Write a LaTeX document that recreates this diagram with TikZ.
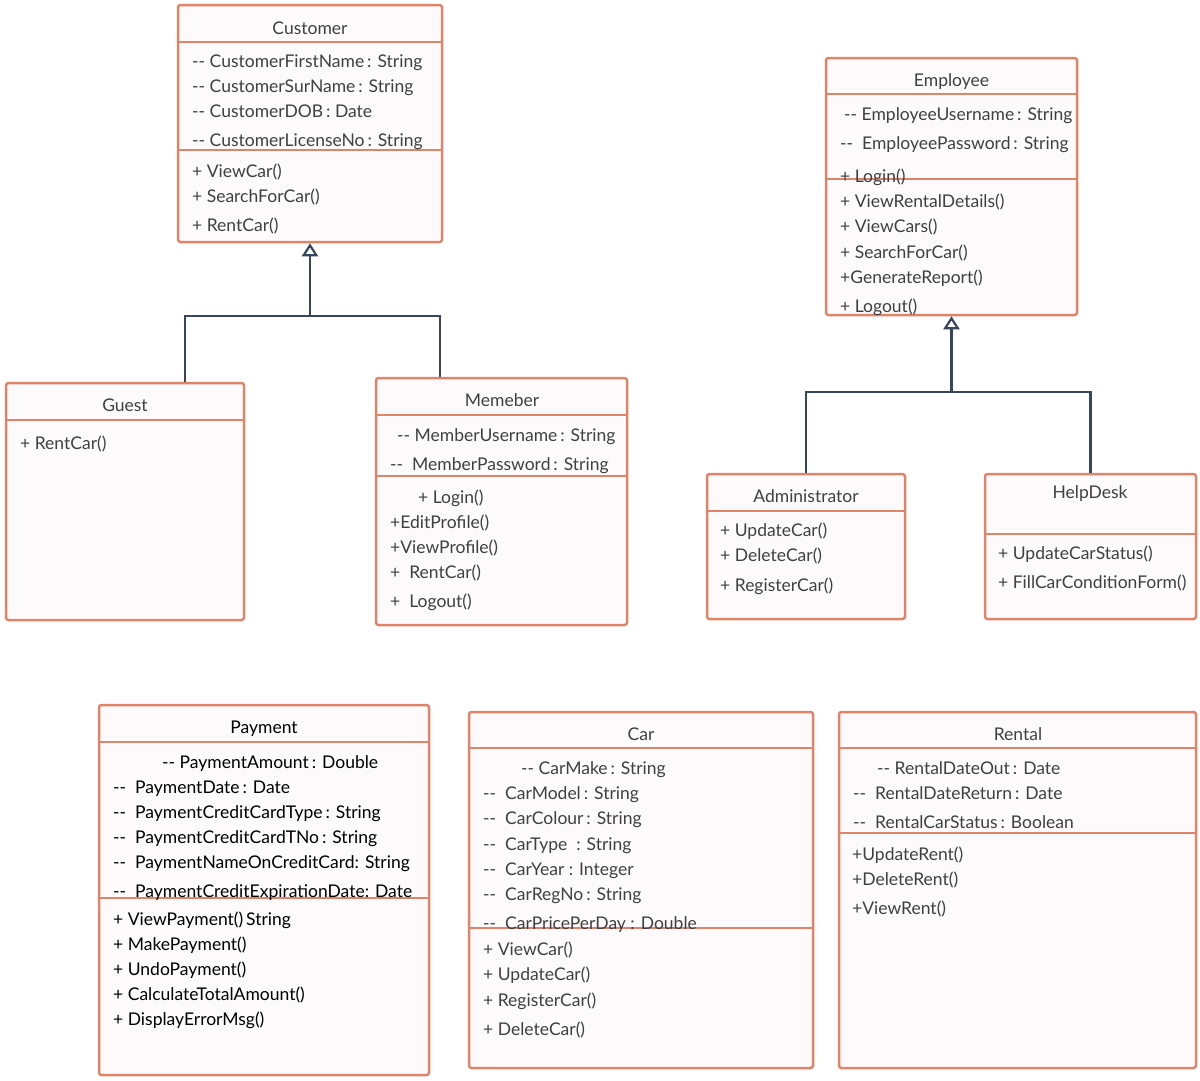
\documentclass[tikz,border=0pt]{standalone}
\usepackage{fontspec}
\setmainfont{Lato}
\usetikzlibrary{arrows.meta}
\definecolor{boxline}{HTML}{E08469}
\definecolor{boxfill}{HTML}{FDFAFB}
\definecolor{txtgrey}{HTML}{404040}
\definecolor{linkblue}{HTML}{36475B}
\tikzset{
	umlbox/.style={draw=boxline, fill=boxfill, line width=2.5pt, rounded corners=2.5pt, inner sep=0pt},
	divider/.style={draw=boxline, line width=2.5pt},
	txt/.style={anchor=base west, inner sep=0pt, text=txtgrey, font=\fontsize{17.5}{20}\selectfont},
	ttl/.style={txt, anchor=base},
	paytxt/.style={txt, text=black},
	payttl/.style={ttl, text=black},
	link/.style={draw=linkblue, line width=2.5pt},
	inherit/.style={link, -{Triangle[open, length=13pt, width=16pt, line width=2.2pt]}},
}

\begin{document}
\begin{tikzpicture}[x=1pt, y=-1pt]
\useasboundingbox (0,0) rectangle (1200,1080);

% class boxes
\node[umlbox, minimum width=264, minimum height=237] (customer) at (310,123.5) {};
\node[umlbox, minimum width=251, minimum height=257] (employee) at (951.5,186.5) {};
\node[umlbox, minimum width=238, minimum height=237] (guest) at (125,501.5) {};
\node[umlbox, minimum width=251, minimum height=247] (member) at (501.5,501.5) {};
\node[umlbox, minimum width=198, minimum height=145] (admin) at (806,546.5) {};
\node[umlbox, minimum width=211, minimum height=145] (helpdesk) at (1090.5,546.5) {};
\node[umlbox, minimum width=330, minimum height=370] (payment) at (264,890) {};
\node[umlbox, minimum width=344, minimum height=356] (car) at (641,890) {};
\node[umlbox, minimum width=357, minimum height=356] (rental) at (1017.5,890) {};

% compartments
\draw[divider] (customer.west |- 0,42) -- (customer.east |- 0,42);
\draw[divider] (customer.west |- 0,150) -- (customer.east |- 0,150);
\draw[divider] (employee.west |- 0,94) -- (employee.east |- 0,94);
\draw[divider] (employee.west |- 0,179) -- (employee.east |- 0,179);
\draw[divider] (guest.west |- 0,420) -- (guest.east |- 0,420);
\draw[divider] (member.west |- 0,415) -- (member.east |- 0,415);
\draw[divider] (member.west |- 0,476) -- (member.east |- 0,476);
\draw[divider] (admin.west |- 0,511) -- (admin.east |- 0,511);
\draw[divider] (helpdesk.west |- 0,534) -- (helpdesk.east |- 0,534);
\draw[divider] (payment.west |- 0,742) -- (payment.east |- 0,742);
\draw[divider] (payment.west |- 0,898) -- (payment.east |- 0,898);
\draw[divider] (car.west |- 0,748) -- (car.east |- 0,748);
\draw[divider] (car.west |- 0,928) -- (car.east |- 0,928);
\draw[divider] (rental.west |- 0,748) -- (rental.east |- 0,748);
\draw[divider] (rental.west |- 0,833) -- (rental.east |- 0,833);

% Customer
\node[ttl] (cust-t) at (310,34) {Customer};
\node[txt] (cust-a1) at (192,67) {-{}- CustomerFirstName\,: String};
\node[txt] (cust-a2) at (192,92) {-{}- CustomerSurName\,: String};
\node[txt] (cust-a3) at (192,117) {-{}- CustomerDOB\,: Date};
\node[txt] (cust-a4) at (192,146) {-{}- CustomerLicenseNo\,: String};
\node[txt] (cust-m1) at (192,177) {+ ViewCar()};
\node[txt] (cust-m2) at (192,202) {+ SearchForCar()};
\node[txt] (cust-m3) at (192,231) {+ RentCar()};

% Employee
\node[ttl] (emp-t) at (951.5,86) {Employee};
\node[txt] (emp-a1) at (844,120) {-{}- EmployeeUsername\,: String};
\node[txt] (emp-a2) at (840,149) {-{}-\ \ EmployeePassword\,: String};
\node[txt] (emp-m1) at (840,182) {+ Login()};
\node[txt] (emp-m2) at (840,207) {+ ViewRentalDetails()};
\node[txt] (emp-m3) at (840,232) {+ ViewCars()};
\node[txt] (emp-m4) at (840,258) {+ SearchForCar()};
\node[txt] (emp-m5) at (840,283) {+GenerateReport()};
\node[txt] (emp-m6) at (840,312) {+ Logout()};

% Guest
\node[ttl] (guest-t) at (125,411) {Guest};
\node[txt] (guest-m1) at (20,449) {+ RentCar()};

% Memeber
\node[ttl] (mem-t) at (502,406) {Memeber};
\node[txt] (mem-a1) at (397,441) {-{}- MemberUsername\,: String};
\node[txt] (mem-a2) at (390,470) {-{}-\ \ MemberPassword\,: String};
\node[txt] (mem-m1) at (418,503) {+ Login()};
\node[txt] (mem-m2) at (390,528) {+EditProfile()};
\node[txt] (mem-m3) at (390,553) {+ViewProfile()};
\node[txt] (mem-m4) at (390,578) {+\ \ RentCar()};
\node[txt] (mem-m5) at (390,607) {+\ \ Logout()};

% Administrator
\node[ttl] (adm-t) at (806,502) {Administrator};
\node[txt] (adm-m1) at (720,536) {+ UpdateCar()};
\node[txt] (adm-m2) at (720,561) {+ DeleteCar()};
\node[txt] (adm-m3) at (720,591) {+ RegisterCar()};

% HelpDesk
\node[ttl] (hd-t) at (1090,498) {HelpDesk};
\node[txt] (hd-m1) at (998,559) {+ UpdateCarStatus()};
\node[txt] (hd-m2) at (998,588) {+ FillCarConditionForm()};

% Payment
\node[payttl] (pay-t) at (264,733) {Payment};
\node[paytxt] (pay-a1) at (162,768) {-{}- PaymentAmount\,: Double};
\node[paytxt] (pay-a2) at (113,793) {-{}-\ \ PaymentDate\,: Date};
\node[paytxt] (pay-a3) at (113,818) {-{}-\ \ PaymentCreditCardType\,: String};
\node[paytxt] (pay-a4) at (113,843) {-{}-\ \ PaymentCreditCardTNo\,: String};
\node[paytxt] (pay-a5) at (113,868) {-{}-\ \ PaymentNameOnCreditCard: String};
\node[paytxt] (pay-a6) at (113,897) {-{}-\ \ PaymentCreditExpirationDate: Date};
\node[paytxt] (pay-m1) at (113,925) {+ ViewPayment()\,String};
\node[paytxt] (pay-m2) at (113,950) {+ MakePayment()};
\node[paytxt] (pay-m3) at (113,975) {+ UndoPayment()};
\node[paytxt] (pay-m4) at (113,1000) {+ CalculateTotalAmount()};
\node[paytxt] (pay-m5) at (113,1025) {+ DisplayErrorMsg()};

% Car
\node[ttl] (car-t) at (641,740) {Car};
\node[txt] (car-a1) at (521,774) {-{}- CarMake\,: String};
\node[txt] (car-a2) at (483,799) {-{}-\ \ CarModel\,: String};
\node[txt] (car-a3) at (483,824) {-{}-\ \ CarColour\,: String};
\node[txt] (car-a4) at (483,850) {-{}-\ \ CarType\ \ : String};
\node[txt] (car-a5) at (483,875) {-{}-\ \ CarYear : Integer};
\node[txt] (car-a6) at (483,900) {-{}-\ \ CarRegNo\,: String};
\node[txt] (car-a7) at (483,929) {-{}-\ \ CarPricePerDay : Double};
\node[txt] (car-m1) at (483,955) {+ ViewCar()};
\node[txt] (car-m2) at (483,980) {+ UpdateCar()};
\node[txt] (car-m3) at (483,1006) {+ RegisterCar()};
\node[txt] (car-m4) at (483,1035) {+ DeleteCar()};

% Rental
\node[ttl] (rent-t) at (1018,740) {Rental};
\node[txt] (rent-a1) at (877,774) {-{}- RentalDateOut\,: Date};
\node[txt] (rent-a2) at (853,799) {-{}-\ \ RentalDateReturn\,: Date};
\node[txt] (rent-a3) at (853,828) {-{}-\ \ RentalCarStatus\,: Boolean};
\node[txt] (rent-m1) at (852,860) {+UpdateRent()};
\node[txt] (rent-m2) at (852,885) {+DeleteRent()};
\node[txt] (rent-m3) at (852,914) {+ViewRent()};

% generalisation
\draw[inherit] (guest.north -| 185,0) |- (customer.south |- 0,316) -- (customer.south);
\draw[link] (member.north -| 440,0) |- (customer.south |- 0,316);
\draw[inherit] (admin.north) |- (employee.south |- 0,392) -- (employee.south);
\draw[link] (helpdesk.north) |- (employee.south |- 0,392);
\end{tikzpicture}
\end{document}
